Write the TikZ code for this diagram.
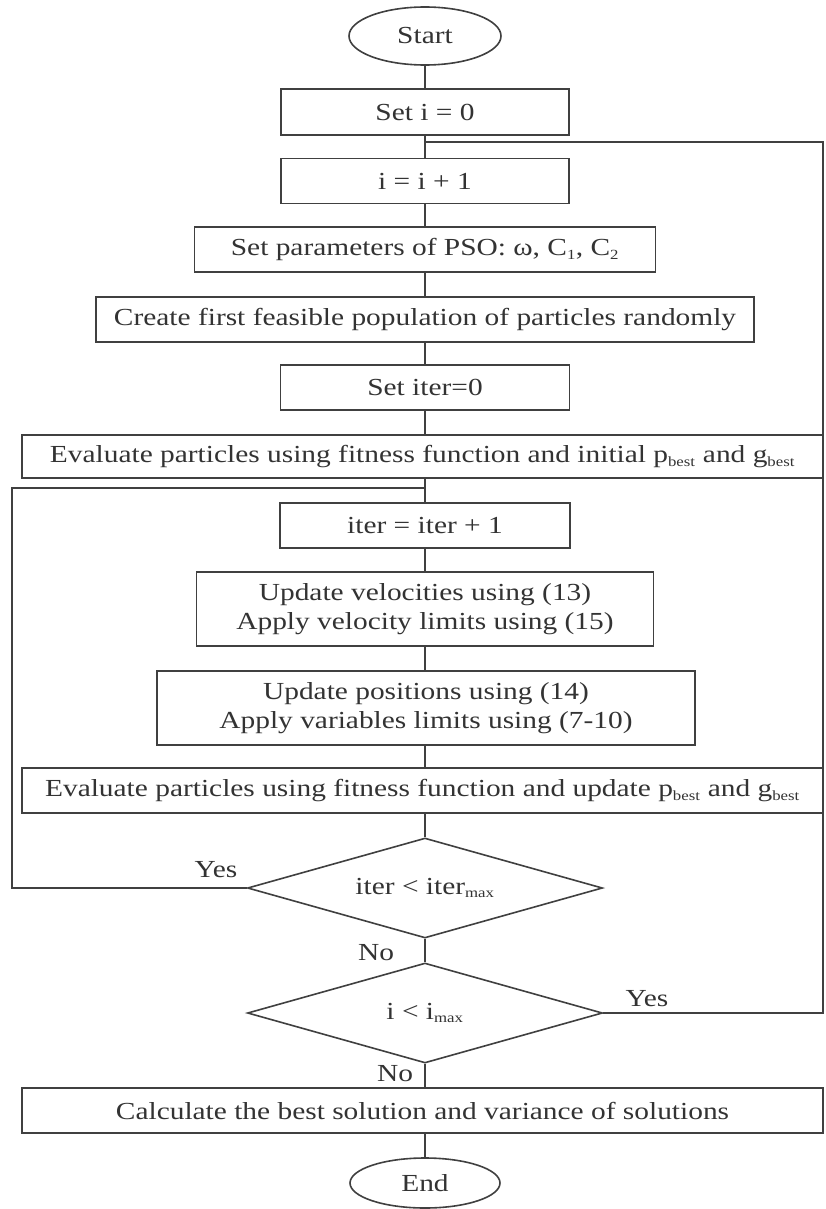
\documentclass[tikz,border=0pt]{standalone}
\usepackage{fontspec}
\setmainfont{Liberation Serif}[FakeStretch=1.2]
\usetikzlibrary{shapes.geometric}
\definecolor{linec}{HTML}{404040}
\definecolor{textc}{HTML}{333333}
\newcommand{\sbs}[1]{\textsubscript{\fontsize{14}{14}\selectfont #1}}
\begin{document}
\begin{tikzpicture}[x=1pt,y=-1pt,
  every node/.style={text=textc,font=\fontsize{24.5}{29}\selectfont},
  stepbox/.style={draw=linec,line width=1.6pt,rectangle,inner sep=0pt,align=center},
  term/.style={draw=linec,line width=1.6pt,ellipse,inner sep=0pt},
  decide/.style={draw=linec,line width=1.6pt,diamond,inner sep=0pt,aspect=3.5},
  conn/.style={draw=linec,line width=1.6pt},
  lbl/.style={inner sep=0pt}]
\useasboundingbox (0,0) rectangle (825,1209);
\fill[white] (0,0) rectangle (825,1209);

\node[term,minimum width=152pt,minimum height=58pt] (start) at (425,36) {Start};
\node[stepbox,minimum width=288pt,minimum height=46pt] (set0) at (425,112) {Set i = 0};
\node[stepbox,minimum width=288pt,minimum height=45pt] (inc) at (425,181) {i = i + 1};
\node[stepbox,minimum width=461pt,minimum height=45pt] (params) at (425,249.5) {Set parameters of PSO: ω, C\sbs{1}, C\sbs{2}};
\node[stepbox,minimum width=658pt,minimum height=45pt] (create) at (425,319.5) {Create first feasible population of particles randomly};
\node[stepbox,minimum width=289pt,minimum height=45pt] (iter0) at (425,387.5) {Set iter=0};
\node[stepbox,minimum width=801pt,minimum height=43pt] (evalinit) at (422.5,456.5) {Evaluate particles using fitness function and initial p\sbs{best} and g\sbs{best}};
\node[stepbox,minimum width=290pt,minimum height=45pt] (iterinc) at (425,525.5) {iter = iter + 1};
\node[stepbox,minimum width=457pt,minimum height=74pt] (vel) at (425,609) {Update velocities using (13)\\Apply velocity limits using (15)};
\node[stepbox,minimum width=538pt,minimum height=74pt] (pos) at (426,708) {Update positions using (14)\\Apply variables limits using (7-10)};
\node[stepbox,minimum width=801pt,minimum height=45pt] (evalupd) at (422.5,790.5) {Evaluate particles using fitness function and update p\sbs{best} and g\sbs{best}};
\node[decide,minimum width=355pt,minimum height=100pt] (dec1) at (425,888) {iter < iter\sbs{max}};
\node[decide,minimum width=355pt,minimum height=100pt] (dec2) at (425,1013) {i < i\sbs{max}};
\node[stepbox,minimum width=801pt,minimum height=45pt] (calc) at (422.5,1110.5) {Calculate the best solution and variance of solutions};
\node[term,minimum width=150pt,minimum height=50pt] (end) at (425,1183) {End};

\node[lbl] (yes1) at (216,870) {Yes};
\node[lbl] (no1) at (376,953) {No};
\node[lbl] (yes2) at (647,999) {Yes};
\node[lbl] (no2) at (395,1074) {No};

\coordinate (cx) at (425,0);
\coordinate (j1) at (425,142);
\coordinate (j2) at (425,488);
\coordinate (rtop) at (823,142);
\coordinate (rbot) at (823,1013);
\coordinate (ltop) at (12,488);
\coordinate (lbot) at (12,888);

\draw[conn] (start.south) -- (set0.north);
\draw[conn] (set0.south) -- (inc.north);
\draw[conn] (inc.south) -- (params.north);
\draw[conn] (params.south) -- (create.north);
\draw[conn] (create.south) -- (iter0.north);
\draw[conn] (iter0.south) -- (evalinit.north -| cx);
\draw[conn] (evalinit.south -| cx) -- (iterinc.north);
\draw[conn] (iterinc.south) -- (vel.north);
\draw[conn] (vel.south) -- (pos.north -| cx);
\draw[conn] (pos.south -| cx) -- (evalupd.north -| cx);
\draw[conn] (evalupd.south -| cx) -- (dec1.north);
\draw[conn] (dec1.south) -- (dec2.north);
\draw[conn] (dec2.south) -- (calc.north -| cx);
\draw[conn] (calc.south -| cx) -- (end.north);

\draw[conn] (dec2.east) -- (rbot) -- (rtop) -- (j1);
\draw[conn] (dec1.west) -- (lbot) -- (ltop) -- (j2);
\end{tikzpicture}
\end{document}
